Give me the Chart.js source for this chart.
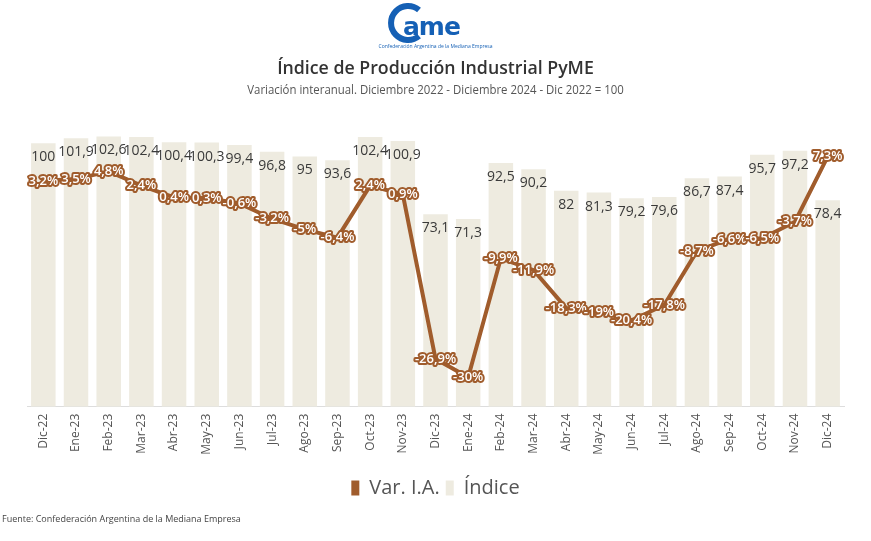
<!DOCTYPE html>
<html>
<head>
<meta charset="utf-8">
<script src="https://cdn.jsdelivr.net/npm/chart.js@4.4.1/dist/chart.umd.min.js"></script>
<style>
  html, body { margin: 0; padding: 0; background: #fff; }
  body { width: 871px; height: 541px; position: relative; overflow: hidden; font-family: "Open Sans", sans-serif; }
  #wrap { position: absolute; left: 0; top: 0; width: 871px; height: 541px; }
  #logo { position: absolute; left: 386px; top: 2px; }
  .logo-sub { position: absolute; left: 0; width: 871px; text-align: center; top: 43px; font-size: 5px; color: #1560b5; }
  .title { position: absolute; left: 0; width: 871px; text-align: center; top: 55px; font-size: 18px; font-weight: 600; color: #333; transform: scaleX(0.985); }
  .subtitle { position: absolute; left: 0; width: 871px; text-align: center; top: 81px; font-size: 12px; color: #555; transform: scaleX(0.95); }
  .source { position: absolute; left: 2px; top: 512px; font-size: 9px; color: #444; }
</style>
</head>
<body>
<div id="wrap"><canvas id="chart" width="871" height="541"></canvas></div>
<svg id="logo" width="90" height="42" viewBox="0 0 90 42">
  <path d="M 33 8 A 17 17 0 1 0 33 34" fill="none" stroke="#1560b5" stroke-width="6"/>
  <text x="17" y="33" font-family="DejaVu Sans, sans-serif" font-weight="bold" font-size="25" letter-spacing="-1" fill="#1560b5">ame</text>
</svg>
<div class="logo-sub">Confederación Argentina de la Mediana Empresa</div>
<div class="title">Índice de Producción Industrial PyME</div>
<div class="subtitle">Variación interanual. Diciembre 2022 - Diciembre 2024 - Dic 2022 = 100</div>
<div class="source">Fuente: Confederación Argentina de la Mediana Empresa</div>
<script>
// datos
const meses = ["Dic-22", "Ene-23", "Feb-23", "Mar-23", "Abr-23", "May-23", "Jun-23", "Jul-23", "Ago-23", "Sep-23",
  "Oct-23", "Nov-23", "Dic-23", "Ene-24", "Feb-24", "Mar-24", "Abr-24", "May-24", "Jun-24", "Jul-24",
  "Ago-24", "Sep-24", "Oct-24", "Nov-24", "Dic-24"];
const indice = [100, 101.9, 102.6, 102.4, 100.4, 100.3, 99.4, 96.8, 95, 93.6,
  102.4, 100.9, 73.1, 71.3, 92.5, 90.2, 82, 81.3, 79.2, 79.6,
  86.7, 87.4, 95.7, 97.2, 78.4];
const varIA = [3.2, 3.5, 4.8, 2.4, 0.4, 0.3, -0.6, -3.2, -5, -6.4,
  2.4, 0.9, -26.9, -30, -9.9, -11.9, -18.3, -19, -20.4, -17.8,
  -8.7, -6.6, -6.5, -3.7, 7.3];

const MARRON = "#a05c2c";
const BEIGE = "#eeebe0";

const fmt = v => String(v).replace(".", ",");

// etiquetas de barras y de la línea
const etiquetas = {
  id: "etiquetas",
  afterDatasetsDraw(chart) {
    const ctx = chart.ctx;
    ctx.save();
    ctx.textAlign = "center";
    ctx.textBaseline = "middle";

    const barras = chart.getDatasetMeta(1);
    ctx.font = "14px 'Open Sans'";
    ctx.fillStyle = "#3a3a3a";
    barras.data.forEach((bar, i) => {
      ctx.fillText(fmt(indice[i]), bar.x, bar.y + 14);
    });

    const linea = chart.getDatasetMeta(0);
    ctx.font = "600 13px 'Open Sans'";
    ctx.lineJoin = "round";
    ctx.lineWidth = 4;
    ctx.strokeStyle = MARRON;
    ctx.fillStyle = "#fff";
    linea.data.forEach((pt, i) => {
      const t = fmt(varIA[i]) + "%";
      ctx.strokeText(t, pt.x, pt.y);
      ctx.fillText(t, pt.x, pt.y);
    });
    ctx.restore();
  }
};

new Chart(document.getElementById("chart"), {
  data: {
    labels: meses,
    datasets: [
      {
        type: "line",
        label: "Var. I.A.",
        data: varIA,
        yAxisID: "y1",
        borderColor: MARRON,
        backgroundColor: MARRON,
        borderWidth: 4,
        pointRadius: 0,
        tension: 0
      },
      {
        type: "bar",
        label: "Índice",
        data: indice,
        yAxisID: "y",
        backgroundColor: BEIGE,
        barPercentage: 0.75,
        categoryPercentage: 1
      }
    ]
  },
  options: {
    responsive: false,
    animation: false,
    layout: { padding: { top: 117, left: 27, right: 27, bottom: 33 } },
    plugins: {
      legend: {
        position: "bottom",
        labels: {
          boxWidth: 8,
          boxHeight: 15,
          padding: 6,
          color: "#555",
          font: { size: 20, family: "'Open Sans'" },
          generateLabels(chart) {
            const items = Chart.defaults.plugins.legend.labels.generateLabels(chart);
            items.forEach(it => { it.lineWidth = 0; });
            return items;
          }
        }
      },
      tooltip: { enabled: false },
      title: { display: false }
    },
    scales: {
      x: {
        grid: { display: false, drawTicks: false },
        border: { display: true, color: "#ddd" },
        ticks: { color: "#555", font: { size: 12, family: "'Open Sans'" }, minRotation: 90, maxRotation: 90, padding: 7 },
        title: { display: true, text: " ", font: { size: 1 }, padding: { top: 9, bottom: 0 } }
      },
      y: { display: false, min: 0, max: 110 },
      y1: { display: false, min: -35, max: 14 }
    }
  },
  plugins: [etiquetas]
});
</script>
</body>
</html>
